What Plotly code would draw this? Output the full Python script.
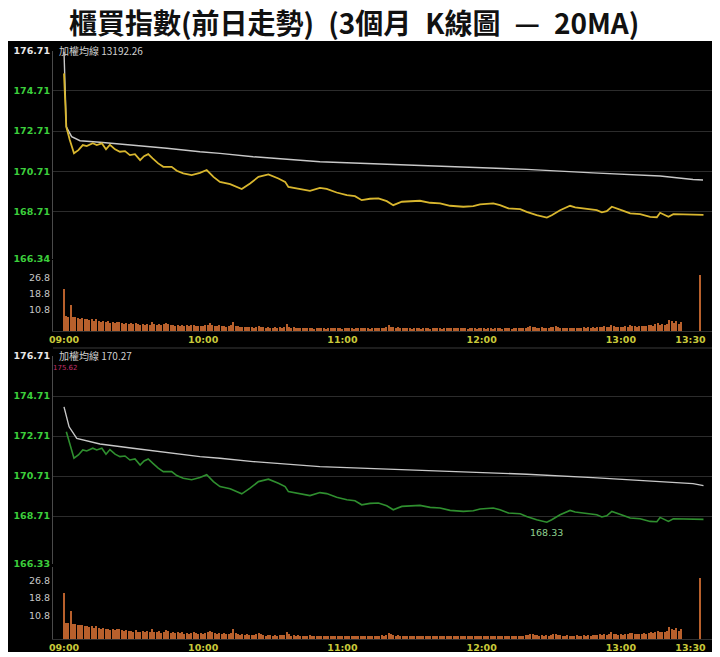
import plotly.graph_objects as go

# time is in minutes after 09:00
idx_t = [0, 1, 2.5, 4.3, 6.2, 8.1, 9.8, 12.4, 14.1, 16.3, 18.1, 19.8, 22.0, 24.1, 26.3, 28.4,
         30.6, 32.8, 34.5, 36.3, 38.2, 40.6, 42.8, 46.4, 48.6, 51.4, 55.0, 58.6, 61.5, 64.4,
         67.2, 71.6, 76.6, 80.2, 83.8, 88.1, 92.4, 95.3, 96.7, 101.7, 106.0, 110.3, 113.2,
         117.5, 121.9, 125.4, 128.3, 131.9, 135.5, 139.1, 141.9, 145.6, 149.9, 153.4, 157.8,
         162.1, 166.4, 172.1, 176.4, 179.3, 185.0, 187.9, 191.5, 196.6, 199.4, 203.7, 208.1,
         210.2, 213.8, 218.1, 220.3, 225.3, 229.6, 231.8, 233.9, 236.1, 238.2, 241.1, 244.0,
         248.3, 252.6, 255.5, 256.9, 259.1, 260.5, 262.6, 268.4, 275.6]
idx_v = [175.58, 172.92, 172.26, 171.60, 171.76, 172.01, 171.96, 172.10, 172.01, 172.10,
         171.80, 172.03, 171.80, 171.68, 171.71, 171.51, 171.56, 171.26, 171.46, 171.56,
         171.35, 171.10, 170.93, 170.93, 170.73, 170.60, 170.52, 170.63, 170.77, 170.43,
         170.18, 170.07, 169.82, 170.10, 170.43, 170.55, 170.35, 170.18, 169.93, 169.82,
         169.73, 169.88, 169.83, 169.65, 169.52, 169.47, 169.27, 169.34, 169.36, 169.22,
         169.02, 169.19, 169.22, 169.24, 169.14, 169.11, 168.99, 168.94, 168.97, 169.06,
         169.11, 169.02, 168.86, 168.82, 168.69, 168.52, 168.40, 168.52, 168.77, 168.99,
         168.91, 168.82, 168.77, 168.66, 168.72, 168.94, 168.84, 168.74, 168.61, 168.57,
         168.44, 168.42, 168.64, 168.51, 168.44, 168.57, 168.54, 168.54]

avg_t = [0, 1, 3.3, 6.9, 15.5, 29.7, 44.3, 58.6, 67.2, 81.5, 110.3, 139.1, 167.7, 179.3,
         199.4, 228.0, 256.9, 271.1, 275.4]
avg_v = [176.66, 172.92, 172.43, 172.23, 172.15, 172.01, 171.85, 171.68, 171.60, 171.43,
         171.18, 171.06, 170.93, 170.88, 170.80, 170.63, 170.47, 170.30, 170.27]

avg2_t = [0, 2.2, 5.5, 15.5, 29.7, 44.3, 58.6, 67.2, 81.5, 110.3, 139.1, 167.7, 179.3,
          199.4, 228.0, 256.9, 271.1, 275.6]
avg2_v = [174.17, 173.17, 172.59, 172.31, 172.10, 171.90, 171.68, 171.60, 171.43, 171.18,
          171.06, 170.96, 170.90, 170.80, 170.63, 170.45, 170.33, 170.23]

# one bar per minute from 09:00, then the closing trade
vol = [21, 7.5, 7.2, 13, 7, 6.8, 6.5, 6.2, 6.6, 5.9,
       6.1, 5.6, 5.8, 5.2, 5.9, 5.0, 4.6, 5.1, 4.4, 4.8,
       4.2, 4.6, 3.9, 4.4, 4.7, 4.0, 3.6, 4.1, 3.5, 3.8,
       3.3, 3.9, 3.4, 3.0, 3.6, 3.2, 3.5, 3.0, 4.5, 3.4,
       3.1, 3.6, 2.9, 3.3, 3.9, 3.5, 2.8, 3.1, 2.6, 3.0,
       2.7, 3.2, 2.5, 2.9, 2.4, 2.8, 3.1, 2.6, 2.3, 2.7,
       2.5, 2.9, 3.1, 3.8, 3.0, 2.6, 2.4, 2.8, 2.3, 2.6,
       2.2, 2.5, 2.9, 4.7, 2.7, 2.3, 2.0, 2.2, 1.9, 2.1,
       1.8, 2.0, 1.7, 2.1, 2.6, 2.2, 1.8, 1.6, 1.9, 1.7,
       1.5, 1.8, 1.6, 1.9, 1.7, 2.0, 3.4, 2.1, 1.6, 1.8,
       1.5, 1.7, 1.4, 1.6, 1.3, 1.5, 1.7, 1.4, 1.2, 1.5,
       1.3, 1.6, 1.4, 1.2, 1.5, 1.3, 1.4, 1.6, 1.3, 1.5,
       1.2, 1.4, 1.6, 1.3, 1.5, 1.2, 1.4, 1.3, 1.5, 1.4,
       1.3, 1.5, 1.2, 1.4, 1.6, 1.3, 1.5, 1.7, 1.4, 2.0,
       2.8, 2.2, 1.8, 1.6, 1.9, 1.5, 1.4, 1.6, 1.3, 1.5,
       1.2, 1.4, 1.3, 1.5, 1.2, 1.4, 1.3, 1.5, 1.2, 1.4,
       1.3, 1.5, 1.4, 1.2, 1.5, 1.3, 1.6, 1.4, 1.3, 1.5,
       1.4, 1.6, 1.3, 1.5, 1.2, 1.4, 1.3, 1.5, 1.2, 1.4,
       1.3, 1.5, 1.2, 1.4, 1.3, 1.2, 1.4, 1.3, 1.5, 1.2,
       1.4, 1.3, 1.5, 1.2, 1.4, 1.6, 1.3, 1.5, 1.4, 1.7,
       1.9, 2.4, 2.1, 1.8, 1.7, 1.6, 1.9, 1.5, 1.7, 1.6,
       1.8, 2.2, 2.5, 1.9, 1.7, 1.6, 1.5, 1.7, 1.4, 1.6,
       1.5, 1.7, 1.4, 1.6, 1.8, 1.5, 1.9, 1.6, 2.0, 1.7,
       1.9, 2.1, 1.8, 2.3, 2.0, 2.2, 3.2, 2.4, 2.1, 2.0,
       2.2, 1.9, 2.3, 2.1, 2.9, 2.6, 2.4, 2.2, 2.5, 2.3,
       2.6, 2.4, 2.8, 3.0, 2.7, 3.3, 3.8, 3.0, 3.4, 3.2,
       3.7, 5.6, 4.8, 4.2, 5.0, 3.5, 4.6]
close_t = 274
close_vol = 28.0

time_ticks = [0, 60, 120, 180, 240, 270]
time_labels = ["09:00", "10:00", "11:00", "12:00", "13:00", "13:30"]
price_ticks_top = [166.34, 168.71, 170.71, 172.71, 174.71, 176.71]
price_ticks_bot = [166.33, 168.71, 170.71, 172.71, 174.71, 176.71]
vol_ticks = [10.8, 18.8, 26.8]

W, H = 720, 657
OFF = 8  # the page body adds an 8px margin around the figure


def fx(px):
    return (px - OFF) / W


def fy(px):
    return 1 - (px - OFF) / H


vol_t = list(range(len(vol))) + [close_t]
vol_all = vol + [close_vol]
low_i = idx_v.index(min(idx_v))

GRID = "#2c2c2c"
GREEN_TXT = "#3ccf3c"
YELLOW_TXT = "#c9c93a"
BAR = "#b8602c"

fig = go.Figure()
fig.add_trace(go.Scatter(x=avg_t, y=avg_v, mode="lines", line=dict(color="#c8c8c8", width=1.4),
                         xaxis="x", yaxis="y"))
fig.add_trace(go.Scatter(x=idx_t, y=idx_v, mode="lines", line=dict(color="#d8b62e", width=1.8),
                         xaxis="x", yaxis="y"))
fig.add_trace(go.Bar(x=vol_t, y=vol_all, width=0.6, marker=dict(color=BAR, line=dict(width=0)),
                     xaxis="x2", yaxis="y2"))
fig.add_trace(go.Scatter(x=avg2_t, y=avg2_v, mode="lines", line=dict(color="#c8c8c8", width=1.4),
                         xaxis="x3", yaxis="y3"))
fig.add_trace(go.Scatter(x=idx_t[1:], y=idx_v[1:], mode="lines", line=dict(color="#2f8f2f", width=1.6),
                         xaxis="x3", yaxis="y3"))
fig.add_trace(go.Bar(x=vol_t, y=vol_all, width=0.6, marker=dict(color=BAR, line=dict(width=0)),
                     xaxis="x4", yaxis="y4"))


def xax(anchor, labels):
    return dict(domain=[fx(53), fx(713)], range=[-4.74, 279.7], anchor=anchor, automargin=False,
                showgrid=False, zeroline=False, showline=labels, linecolor="#303030",
                tickvals=time_ticks, ticktext=time_labels, showticklabels=labels, ticks="",
                tickfont=dict(family="DejaVu Sans", size=9.5, color=YELLOW_TXT, weight="bold"))


def price_ax(top_px, bot_px, ticks):
    text = ["%.2f" % v for v in ticks]
    text[-1] = "<span style='color:#e8e8e8'>%s</span>" % text[-1]
    return dict(domain=[fy(bot_px), fy(top_px)], range=[ticks[0], ticks[-1]], automargin=False,
                tickvals=ticks, ticktext=text, ticks="", showgrid=True, gridcolor=GRID,
                gridwidth=1, zeroline=False, showline=True, linecolor="#4a4a4a",
                tickfont=dict(family="DejaVu Sans", size=9.5, color=GREEN_TXT, weight="bold"))


def vol_ax(top_px, bot_px, top_val):
    return dict(domain=[fy(bot_px), fy(top_px)], range=[0, top_val], tickvals=vol_ticks,
                ticktext=["%.1f" % v for v in vol_ticks], ticks="", showgrid=False,
                zeroline=False, showline=True, linecolor="#4a4a4a", automargin=False,
                tickfont=dict(family="DejaVu Sans", size=9.5, color="#c8c8c8"))


fig.update_layout(
    width=W, height=H, margin=dict(l=0, r=0, t=0, b=0, pad=0),
    paper_bgcolor="white", plot_bgcolor="rgba(0,0,0,0)",
    showlegend=False, hovermode=False, bargap=0,
    xaxis=xax("y", False), yaxis=price_ax(50.7, 259, price_ticks_top),
    xaxis2=xax("y2", True), yaxis2=vol_ax(260, 331, 35.5),
    xaxis3=xax("y3", False), yaxis3=price_ax(356, 563.6, price_ticks_bot),
    xaxis4=xax("y4", True), yaxis4=vol_ax(567, 639, 33),
    shapes=[
        dict(type="rect", xref="paper", yref="paper", x0=fx(7), x1=fx(714), y0=fy(652), y1=fy(41),
             fillcolor="black", line=dict(width=0), layer="below"),
        dict(type="line", xref="paper", yref="paper", x0=fx(53), x1=fx(713), y0=fy(348), y1=fy(348),
             line=dict(color="#3a3a3a", width=1)),
    ],
    annotations=[
        dict(text="<b>櫃買指數(前日走勢)\u2002(3個月\u2002K線圖\u2002—\u200220MA)</b>", x=fx(354), y=fy(22),
             xref="paper", yref="paper", showarrow=False, xanchor="center", yanchor="middle",
             borderpad=0, font=dict(family="Noto Sans CJK TC", size=28, color="#111111")),
        dict(text="加權均線 13192.26", x=fx(57), y=fy(51), xref="paper", yref="paper",
             showarrow=False, xanchor="left", yanchor="middle",
             font=dict(family="Noto Sans CJK TC", size=10, color="#cfcfcf")),
        dict(text="加權均線 170.27", x=fx(58), y=fy(355), xref="paper", yref="paper",
             showarrow=False, xanchor="left", yanchor="middle", borderpad=0,
             font=dict(family="Noto Sans CJK TC", size=10, color="#cfcfcf")),
        dict(text="175.62", x=fx(52), y=fy(368), xref="paper", yref="paper",
             showarrow=False, xanchor="left", yanchor="middle", borderpad=0,
             font=dict(family="DejaVu Sans", size=7, color="#c0306a")),
        dict(text="168.33", x=idx_t[low_i], y=idx_v[low_i], xref="x3", yref="y3",
             showarrow=False, xanchor="center", yanchor="top", yshift=-3,
             font=dict(family="DejaVu Sans", size=9.5, color="#8fd08f")),
    ],
)

fig.write_html("out.html")
